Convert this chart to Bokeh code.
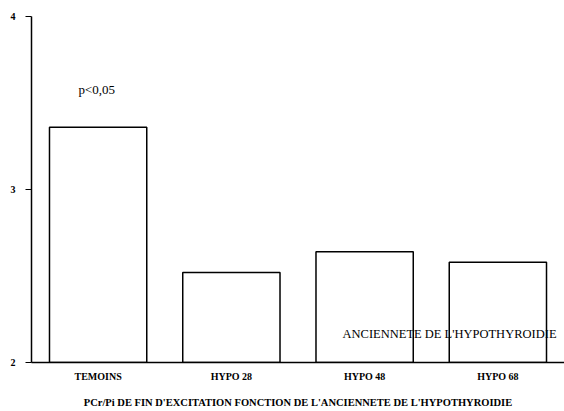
from bokeh.plotting import figure
from bokeh.models import FactorRange, Range1d, Label, FixedTicker
from bokeh.embed import file_html
from bokeh.resources import INLINE

categories = ["TEMOINS", "HYPO 28", "HYPO 48", "HYPO 68"]
values = [3.36, 2.52, 2.64, 2.58]
y_ticks = [2, 3, 4]

SERIF = "Liberation Serif"

p = figure(width=564, height=411, output_backend="svg", toolbar_location=None,
           x_range=FactorRange(*categories, range_padding=0),
           y_range=Range1d(2, 4),
           min_border_left=31, min_border_right=0, min_border_top=16, min_border_bottom=49)
p.outline_line_color = None
p.xgrid.grid_line_color = None
p.ygrid.grid_line_color = None
p.background_fill_color = "white"

p.vbar(x=categories, top=values, bottom=2, width=0.73,
       fill_color="white", line_color="black", line_width=1.5)

p.yaxis.ticker = FixedTicker(ticks=y_ticks)
p.yaxis.minor_tick_line_color = None
p.yaxis.major_tick_out = 6
p.yaxis.major_tick_in = 0
p.yaxis.axis_line_width = 1.5
p.yaxis.major_label_text_font = SERIF
p.yaxis.major_label_text_font_style = "bold"
p.yaxis.major_label_text_font_size = "10px"
p.yaxis.major_label_text_color = "black"
p.yaxis.major_label_standoff = 10

p.xaxis.major_tick_line_color = None
p.xaxis.major_tick_out = 0
p.xaxis.major_tick_in = 0
p.xaxis.axis_line_width = 1.5
p.xaxis.major_label_text_font = SERIF
p.xaxis.major_label_text_font_style = "bold"
p.xaxis.major_label_text_font_size = "10px"
p.xaxis.major_label_text_color = "black"
p.xaxis.major_label_standoff = 8
p.xaxis.axis_label = "PCr/Pi DE FIN D'EXCITATION FONCTION DE L'ANCIENNETE DE L'HYPOTHYROIDIE"
p.xaxis.axis_label_text_font = SERIF
p.xaxis.axis_label_text_font_style = "bold"
p.xaxis.axis_label_text_font_size = "10.5px"
p.xaxis.axis_label_text_color = "black"
p.xaxis.axis_label_standoff = 12

p.add_layout(Label(x=47, y=266, x_units="screen", y_units="screen", text="p<0,05",
                   text_font=SERIF, text_font_size="13px", text_color="black"))
p.add_layout(Label(x=311, y=22, x_units="screen", y_units="screen",
                   text="ANCIENNETE DE L'HYPOTHYROIDIE",
                   text_font=SERIF, text_font_size="12.5px", text_color="black"))

open("out.html", "w").write(file_html(p, INLINE))
